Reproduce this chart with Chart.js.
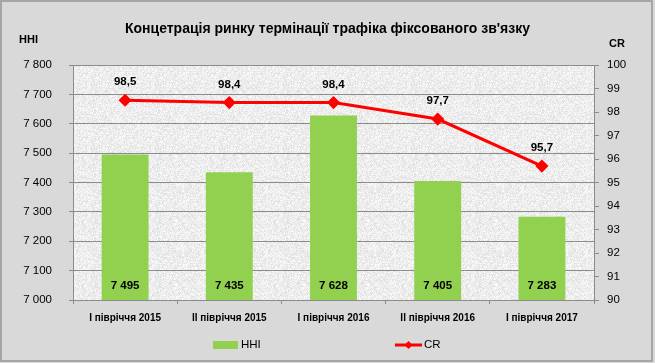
<!DOCTYPE html>
<html>
<head>
<meta charset="utf-8">
<script src="https://cdn.jsdelivr.net/npm/chart.js@4/dist/chart.umd.min.js"></script>
<style>
html,body{margin:0;padding:0;background:#d9d9d9;}
#wrap{width:655px;height:363px;position:relative;}
</style>
</head>
<body>
<div id="wrap"><canvas id="c" width="655" height="363"></canvas></div>
<script>
const categories = ["I півріччя 2015","II півріччя 2015","I півріччя 2016","II півріччя 2016","I півріччя 2017"];
const hhiValues = [7495, 7435, 7628, 7405, 7283];
const crValues = [98.5, 98.4, 98.4, 97.7, 95.7];
const title = "Концетрація ринку термінації трафіка фіксованого зв'язку";

const FONT = "'Liberation Sans', Arial, sans-serif";

function fmtHHI(v){ return String(Math.round(v)).replace(/\B(?=(\d{3})+(?!\d))/g, ' '); }
function fmtCR(v){ return v.toFixed(1).replace('.', ','); }

// decorative paper-like texture (deterministic hash, styling only)
function makeTexture(){
  const t = document.createElement('canvas');
  t.width = 64; t.height = 64;
  const c = t.getContext('2d');
  const img = c.createImageData(64,64);
  for (let y=0;y<64;y++){
    for (let x=0;x<64;x++){
      let h = (x*374761393 + y*668265263) | 0;
      h = (h ^ (h >>> 13)) * 1274126177 | 0;
      h = (h ^ (h >>> 16)) >>> 0;
      const n = (h % 1000) / 1000;
      const v = Math.round(222 + n*30);
      const i = (y*64+x)*4;
      img.data[i]=v; img.data[i+1]=v; img.data[i+2]=v; img.data[i+3]=255;
    }
  }
  c.putImageData(img,0,0);
  return t;
}
const textureCanvas = makeTexture();

const framePlugin = {
  id: 'frame',
  beforeDraw(chart){
    const ctx = chart.ctx;
    ctx.save();
    ctx.fillStyle = '#d9d9d9';
    ctx.fillRect(0,0,chart.width,chart.height);
    ctx.strokeStyle = '#a6a6a6';
    ctx.lineWidth = 2;
    ctx.strokeRect(1,1,chart.width-4,chart.height-3);
    const a = chart.chartArea;
    ctx.fillStyle = ctx.createPattern(textureCanvas, 'repeat');
    ctx.fillRect(a.left, a.top, a.right-a.left, a.bottom-a.top);
    ctx.restore();
  },
  afterDraw(chart){
    const ctx = chart.ctx;
    ctx.save();
    ctx.fillStyle = '#000';
    ctx.font = "bold 11px " + FONT;
    ctx.textBaseline = 'middle';
    ctx.textAlign = 'left';
    ctx.fillText('HHI', 19, 40);
    ctx.fillText('CR', 609, 44);
    const barMeta = chart.getDatasetMeta(0);
    ctx.textAlign = 'center';
    ctx.font = "bold 11.5px " + FONT;
    barMeta.data.forEach((el,i)=>{
      ctx.fillText(fmtHHI(hhiValues[i]), el.x, chart.chartArea.bottom - 14);
    });
    const lineMeta = chart.getDatasetMeta(1);
    lineMeta.data.forEach((el,i)=>{
      ctx.fillText(fmtCR(crValues[i]), el.x, el.y - 18);
    });
    // legend
    const ly = 345;
    ctx.fillStyle = '#92d050';
    ctx.fillRect(213, 341, 25, 8);
    ctx.fillStyle = '#000';
    ctx.font = "11.5px " + FONT;
    ctx.textAlign = 'left';
    ctx.fillText('HHI', 241, ly);
    ctx.strokeStyle = '#ff0000';
    ctx.lineWidth = 3;
    ctx.beginPath(); ctx.moveTo(395, ly); ctx.lineTo(422, ly); ctx.stroke();
    ctx.fillStyle = '#ff0000';
    ctx.beginPath(); ctx.moveTo(408.5, ly-4); ctx.lineTo(412.5, ly); ctx.lineTo(408.5, ly+4); ctx.lineTo(404.5, ly); ctx.closePath(); ctx.fill();
    ctx.fillStyle = '#000';
    ctx.fillText('CR', 424, ly);
    ctx.restore();
  }
};

new Chart(document.getElementById('c'), {
  data: {
    labels: categories,
    datasets: [
      { type:'bar', label:'HHI', data:hhiValues, backgroundColor:'#92d050', borderWidth:0,
        yAxisID:'y', barPercentage:0.9, categoryPercentage:0.5, order:2 },
      { type:'line', label:'CR', data:crValues, borderColor:'#ff0000', backgroundColor:'#ff0000',
        borderWidth:3, pointStyle:'rectRot', pointRadius:4.5, pointHoverRadius:4.5,
        tension:0, yAxisID:'y1', order:1 }
    ]
  },
  plugins:[framePlugin],
  options: {
    responsive:false,
    animation:false,
    layout:{ padding:{left:0,right:0,top:0,bottom:0} },
    plugins:{
      legend:{display:false},
      tooltip:{enabled:false},
      title:{ display:true, text:title, color:'#000',
        font:{family:FONT, size:14, weight:'bold', lineHeight:1.2},
        padding:{top:21, bottom:65-21-16.8} }
    },
    scales:{
      x:{
        grid:{ display:true, drawOnChartArea:false, drawTicks:true, tickLength:4, color:'#8c8c8c', offset:true },
        border:{ display:true, color:'#8c8c8c', width:1 },
        ticks:{ color:'#000', font:{family:FONT, size:10, weight:'bold'}, padding:8, maxRotation:0 },
        afterFit(s){ s.height = 63; }
      },
      y:{
        position:'left', min:7000, max:7800,
        ticks:{ stepSize:100, color:'#000', font:{family:FONT, size:11.5}, padding:17,
          callback:(v)=>fmtHHI(v) },
        grid:{ color:'#8c8c8c', tickLength:4, lineWidth:1 },
        border:{ display:true, color:'#8c8c8c' },
        afterFit(s){ s.width = 73; }
      },
      y1:{
        position:'right', min:90, max:100,
        ticks:{ stepSize:1, color:'#000', font:{family:FONT, size:11.5}, padding:8 },
        grid:{ drawOnChartArea:false, color:'#8c8c8c', tickLength:5 },
        border:{ display:true, color:'#8c8c8c' },
        afterFit(s){ s.width = 61; }
      }
    }
  }
});
</script>
</body>
</html>
